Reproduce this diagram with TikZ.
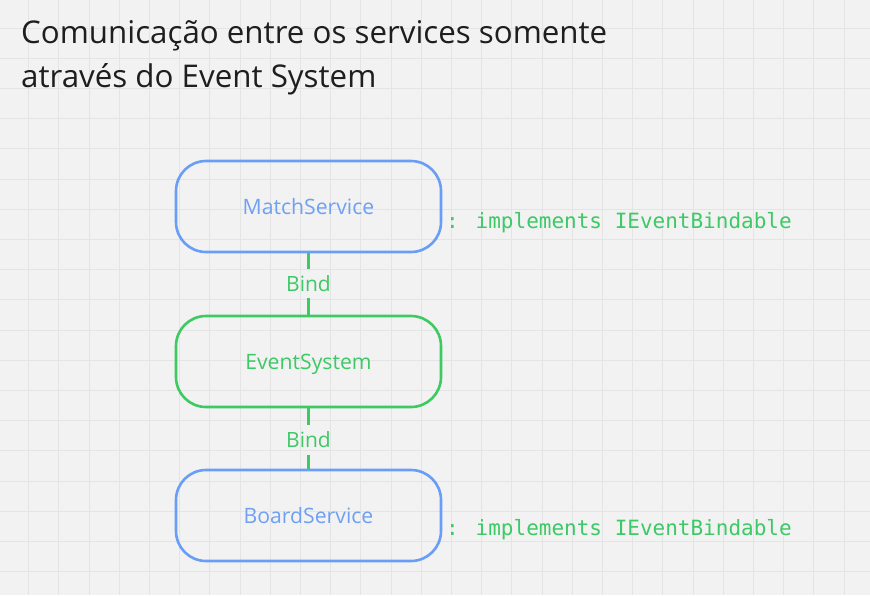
\documentclass[tikz,border=0pt]{standalone}
\usepackage{fontspec}
\setmainfont{Open Sans}
\newfontfamily\codefont{DejaVu Sans Mono}
\definecolor{bgc}{HTML}{F2F2F2}
\definecolor{gridc}{HTML}{E4E4E4}
\definecolor{blueln}{HTML}{6A9DF5}
\definecolor{bluetx}{HTML}{6FA0F2}
\definecolor{greenln}{HTML}{3DCA62}
\definecolor{greentx}{HTML}{3CC966}
\definecolor{titletx}{HTML}{1E1E1E}
\tikzset{
  svcbox/.style={draw=blueln, line width=2.6pt, rounded corners=30pt, minimum width=265pt, minimum height=91pt, text=bluetx, font=\fontsize{21.2}{24}\selectfont, text height=15pt, text depth=0pt},
  evbox/.style={draw=greenln, line width=2.6pt, rounded corners=30pt, minimum width=265pt, minimum height=91pt, text=greentx, font=\fontsize{21.2}{24}\selectfont, text height=15pt, text depth=0pt},
  bindlbl/.style={text=greentx, font=\fontsize{21}{24}\selectfont, inner sep=0pt, minimum height=29pt, text height=15pt, text depth=0pt},
  conn/.style={draw=greenln, line width=2.6pt},
  codelbl/.style={text=greentx, font=\codefont\fontsize{21}{24}\selectfont, anchor=base west, inner sep=0pt},
  titlelbl/.style={anchor=base west, inner sep=0pt, text=titletx, font=\fontsize{31.3}{44}\selectfont},
}
\begin{document}
\begin{tikzpicture}[x=1pt,y=-1pt]
\fill[bgc] (0,0) rectangle (870,595);
\useasboundingbox (0,0) rectangle (870,595);
\foreach \k in {0,...,28} {
  \draw[gridc, line width=0.8pt] ({28.5+30.2*\k},0) -- ({28.5+30.2*\k},595);
}
\foreach \k in {0,...,19} {
  \draw[gridc, line width=0.8pt] (0,{28+30.2*\k}) -- (870,{28+30.2*\k});
}
\node[titlelbl] (title1) at (21,43) {Comunicação entre os services somente};
\node[titlelbl] (title2) at (21,87) {através do Event System};
\node[svcbox] (match) at (308.5,206.5) {MatchService};
\node[evbox] (event) at (308.5,361.5) {EventSystem};
\node[svcbox] (board) at (308.5,515.5) {BoardService};
\node[bindlbl] (bind1) at (308.5,283.5) {Bind};
\node[bindlbl] (bind2) at (308.5,440) {Bind};
\draw[conn] (match.south) -- (bind1.north);
\draw[conn] (bind1.south) -- (event.north);
\draw[conn] (event.south) -- (bind2.north);
\draw[conn] (bind2.south) -- (board.north);
\node[codelbl] (impl1) at (446,228) {: implements IEventBindable};
\node[codelbl] (impl2) at (446,535) {: implements IEventBindable};
\end{tikzpicture}
\end{document}
